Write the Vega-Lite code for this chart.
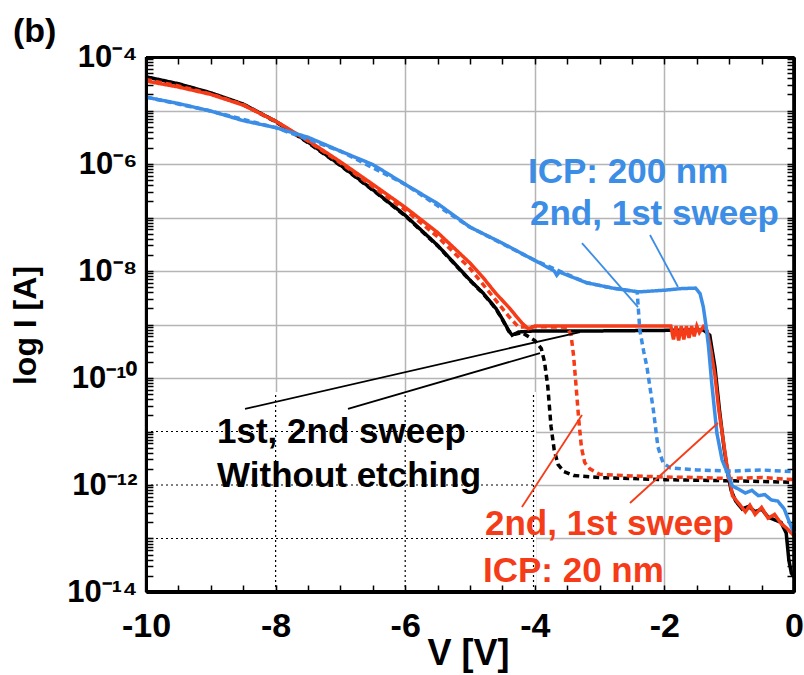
{
 "$schema": "https://vega.github.io/schema/vega-lite/v6.json",
 "width": 648,
 "height": 535,
 "autosize": {"type": "none"},
 "padding": {"left": 146, "top": 57, "right": 10, "bottom": 83},
 "background": "white",
 "title": {"text": "(b)", "anchor": "start", "frame": "group", "dx": -133, "dy": 47, "offset": 12, "font": "Liberation Sans", "fontSize": 34, "fontWeight": "bold", "color": "black", "baseline": "alphabetic"},
 "config": {"view": {"stroke": null}, "font": "Liberation Sans"},
 "resolve": {"axis": {"x": "independent", "y": "independent"}},
 "datasets": {
  "curves": [
   {"sample":"Without etching","sweep":"1st","V":-10,"I":4.27e-5},
   {"sample":"Without etching","sweep":"1st","V":-9.5,"I":3.16e-5},
   {"sample":"Without etching","sweep":"1st","V":-9,"I":2.14e-5},
   {"sample":"Without etching","sweep":"1st","V":-8.5,"I":1.32e-5},
   {"sample":"Without etching","sweep":"1st","V":-8,"I":6.31e-6},
   {"sample":"Without etching","sweep":"1st","V":-7.5,"I":2.57e-6},
   {"sample":"Without etching","sweep":"1st","V":-7,"I":9.55e-7},
   {"sample":"Without etching","sweep":"1st","V":-6.5,"I":3.31e-7},
   {"sample":"Without etching","sweep":"1st","V":-6,"I":1.10e-7},
   {"sample":"Without etching","sweep":"1st","V":-5.5,"I":3.02e-8},
   {"sample":"Without etching","sweep":"1st","V":-5,"I":6.76e-9},
   {"sample":"Without etching","sweep":"1st","V":-4.8,"I":3.89e-9},
   {"sample":"Without etching","sweep":"1st","V":-4.6,"I":2.0e-9},
   {"sample":"Without etching","sweep":"1st","V":-4.5,"I":1.26e-9},
   {"sample":"Without etching","sweep":"1st","V":-4.4,"I":7.59e-10},
   {"sample":"Without etching","sweep":"1st","V":-4.35,"I":6.31e-10},
   {"sample":"Without etching","sweep":"1st","V":-4.25,"I":7.24e-10},
   {"sample":"Without etching","sweep":"1st","V":-4,"I":7.59e-10},
   {"sample":"Without etching","sweep":"1st","V":-3,"I":7.59e-10},
   {"sample":"Without etching","sweep":"1st","V":-2,"I":7.76e-10},
   {"sample":"Without etching","sweep":"1st","V":-1.4,"I":7.94e-10},
   {"sample":"Without etching","sweep":"1st","V":-1.3,"I":6.31e-10},
   {"sample":"Without etching","sweep":"1st","V":-1.22,"I":1.58e-10},
   {"sample":"Without etching","sweep":"1st","V":-1.15,"I":2.51e-11},
   {"sample":"Without etching","sweep":"1st","V":-1.08,"I":5.01e-12},
   {"sample":"Without etching","sweep":"1st","V":-1.02,"I":1.58e-12},
   {"sample":"Without etching","sweep":"1st","V":-0.97,"I":7.94e-13},
   {"sample":"Without etching","sweep":"1st","V":-0.9,"I":5.01e-13},
   {"sample":"Without etching","sweep":"1st","V":-0.8,"I":3.55e-13},
   {"sample":"Without etching","sweep":"1st","V":-0.7,"I":3.98e-13},
   {"sample":"Without etching","sweep":"1st","V":-0.6,"I":3.16e-13},
   {"sample":"Without etching","sweep":"1st","V":-0.5,"I":3.55e-13},
   {"sample":"Without etching","sweep":"1st","V":-0.4,"I":2.51e-13},
   {"sample":"Without etching","sweep":"1st","V":-0.3,"I":2.24e-13},
   {"sample":"Without etching","sweep":"1st","V":-0.2,"I":2.0e-13},
   {"sample":"Without etching","sweep":"1st","V":-0.12,"I":1.26e-13},
   {"sample":"Without etching","sweep":"1st","V":-0.08,"I":3.98e-14},
   {"sample":"Without etching","sweep":"1st","V":-0.04,"I":2.24e-14},
   {"sample":"Without etching","sweep":"1st","V":0,"I":1.91e-14},

   {"sample":"Without etching","sweep":"2nd","V":-10,"I":4.17e-5},
   {"sample":"Without etching","sweep":"2nd","V":-9.5,"I":3.09e-5},
   {"sample":"Without etching","sweep":"2nd","V":-9,"I":2.09e-5},
   {"sample":"Without etching","sweep":"2nd","V":-8.5,"I":1.29e-5},
   {"sample":"Without etching","sweep":"2nd","V":-8,"I":6.17e-6},
   {"sample":"Without etching","sweep":"2nd","V":-7.5,"I":2.51e-6},
   {"sample":"Without etching","sweep":"2nd","V":-7,"I":9.33e-7},
   {"sample":"Without etching","sweep":"2nd","V":-6.5,"I":3.24e-7},
   {"sample":"Without etching","sweep":"2nd","V":-6,"I":1.07e-7},
   {"sample":"Without etching","sweep":"2nd","V":-5.5,"I":2.95e-8},
   {"sample":"Without etching","sweep":"2nd","V":-5,"I":6.61e-9},
   {"sample":"Without etching","sweep":"2nd","V":-4.8,"I":3.80e-9},
   {"sample":"Without etching","sweep":"2nd","V":-4.6,"I":1.95e-9},
   {"sample":"Without etching","sweep":"2nd","V":-4.5,"I":1.23e-9},
   {"sample":"Without etching","sweep":"2nd","V":-4.4,"I":7.41e-10},
   {"sample":"Without etching","sweep":"2nd","V":-4.3,"I":6.61e-10},
   {"sample":"Without etching","sweep":"2nd","V":-4.2,"I":7.08e-10},
   {"sample":"Without etching","sweep":"2nd","V":-4.0,"I":5.01e-10},
   {"sample":"Without etching","sweep":"2nd","V":-3.9,"I":3.55e-10},
   {"sample":"Without etching","sweep":"2nd","V":-3.85,"I":2.0e-10},
   {"sample":"Without etching","sweep":"2nd","V":-3.8,"I":7.08e-11},
   {"sample":"Without etching","sweep":"2nd","V":-3.75,"I":1.26e-11},
   {"sample":"Without etching","sweep":"2nd","V":-3.7,"I":4.47e-12},
   {"sample":"Without etching","sweep":"2nd","V":-3.64,"I":2.40e-12},
   {"sample":"Without etching","sweep":"2nd","V":-3.55,"I":1.78e-12},
   {"sample":"Without etching","sweep":"2nd","V":-3.4,"I":1.51e-12},
   {"sample":"Without etching","sweep":"2nd","V":-3,"I":1.38e-12},
   {"sample":"Without etching","sweep":"2nd","V":-2,"I":1.26e-12},
   {"sample":"Without etching","sweep":"2nd","V":-1,"I":1.20e-12},
   {"sample":"Without etching","sweep":"2nd","V":0,"I":1.12e-12},

   {"sample":"ICP: 20 nm","sweep":"1st","V":-10,"I":3.55e-5},
   {"sample":"ICP: 20 nm","sweep":"1st","V":-9.5,"I":2.75e-5},
   {"sample":"ICP: 20 nm","sweep":"1st","V":-9,"I":2.0e-5},
   {"sample":"ICP: 20 nm","sweep":"1st","V":-8.5,"I":1.26e-5},
   {"sample":"ICP: 20 nm","sweep":"1st","V":-8,"I":6.31e-6},
   {"sample":"ICP: 20 nm","sweep":"1st","V":-7.5,"I":2.75e-6},
   {"sample":"ICP: 20 nm","sweep":"1st","V":-7,"I":1.10e-6},
   {"sample":"ICP: 20 nm","sweep":"1st","V":-6.5,"I":4.17e-7},
   {"sample":"ICP: 20 nm","sweep":"1st","V":-6,"I":1.55e-7},
   {"sample":"ICP: 20 nm","sweep":"1st","V":-5.5,"I":5.25e-8},
   {"sample":"ICP: 20 nm","sweep":"1st","V":-5,"I":1.41e-8},
   {"sample":"ICP: 20 nm","sweep":"1st","V":-4.8,"I":7.59e-9},
   {"sample":"ICP: 20 nm","sweep":"1st","V":-4.6,"I":3.80e-9},
   {"sample":"ICP: 20 nm","sweep":"1st","V":-4.4,"I":2.09e-9},
   {"sample":"ICP: 20 nm","sweep":"1st","V":-4.2,"I":1.07e-9},
   {"sample":"ICP: 20 nm","sweep":"1st","V":-4.1,"I":8.32e-10},
   {"sample":"ICP: 20 nm","sweep":"1st","V":-4.0,"I":9.33e-10},
   {"sample":"ICP: 20 nm","sweep":"1st","V":-3,"I":9.33e-10},
   {"sample":"ICP: 20 nm","sweep":"1st","V":-1.9,"I":9.33e-10},
   {"sample":"ICP: 20 nm","sweep":"1st","V":-1.86,"I":5.25e-10},
   {"sample":"ICP: 20 nm","sweep":"1st","V":-1.82,"I":9.33e-10},
   {"sample":"ICP: 20 nm","sweep":"1st","V":-1.78,"I":5.01e-10},
   {"sample":"ICP: 20 nm","sweep":"1st","V":-1.74,"I":9.33e-10},
   {"sample":"ICP: 20 nm","sweep":"1st","V":-1.7,"I":5.25e-10},
   {"sample":"ICP: 20 nm","sweep":"1st","V":-1.66,"I":9.33e-10},
   {"sample":"ICP: 20 nm","sweep":"1st","V":-1.62,"I":5.62e-10},
   {"sample":"ICP: 20 nm","sweep":"1st","V":-1.58,"I":9.33e-10},
   {"sample":"ICP: 20 nm","sweep":"1st","V":-1.54,"I":6.03e-10},
   {"sample":"ICP: 20 nm","sweep":"1st","V":-1.5,"I":9.33e-10},
   {"sample":"ICP: 20 nm","sweep":"1st","V":-1.46,"I":7.08e-10},
   {"sample":"ICP: 20 nm","sweep":"1st","V":-1.4,"I":9.12e-10},
   {"sample":"ICP: 20 nm","sweep":"1st","V":-1.34,"I":7.59e-10},
   {"sample":"ICP: 20 nm","sweep":"1st","V":-1.28,"I":3.16e-10},
   {"sample":"ICP: 20 nm","sweep":"1st","V":-1.22,"I":1.12e-10},
   {"sample":"ICP: 20 nm","sweep":"1st","V":-1.16,"I":2.51e-11},
   {"sample":"ICP: 20 nm","sweep":"1st","V":-1.1,"I":7.94e-12},
   {"sample":"ICP: 20 nm","sweep":"1st","V":-1.04,"I":2.51e-12},
   {"sample":"ICP: 20 nm","sweep":"1st","V":-0.99,"I":1.26e-12},
   {"sample":"ICP: 20 nm","sweep":"1st","V":-0.95,"I":6.31e-13},
   {"sample":"ICP: 20 nm","sweep":"1st","V":-0.85,"I":4.47e-13},
   {"sample":"ICP: 20 nm","sweep":"1st","V":-0.75,"I":3.16e-13},
   {"sample":"ICP: 20 nm","sweep":"1st","V":-0.68,"I":4.17e-13},
   {"sample":"ICP: 20 nm","sweep":"1st","V":-0.6,"I":2.82e-13},
   {"sample":"ICP: 20 nm","sweep":"1st","V":-0.5,"I":3.80e-13},
   {"sample":"ICP: 20 nm","sweep":"1st","V":-0.4,"I":2.40e-13},
   {"sample":"ICP: 20 nm","sweep":"1st","V":-0.3,"I":2.82e-13},
   {"sample":"ICP: 20 nm","sweep":"1st","V":-0.2,"I":1.91e-13},
   {"sample":"ICP: 20 nm","sweep":"1st","V":-0.1,"I":1.51e-13},
   {"sample":"ICP: 20 nm","sweep":"1st","V":0,"I":1.12e-13},

   {"sample":"ICP: 20 nm","sweep":"2nd","V":-10,"I":3.80e-5},
   {"sample":"ICP: 20 nm","sweep":"2nd","V":-9.5,"I":2.88e-5},
   {"sample":"ICP: 20 nm","sweep":"2nd","V":-9,"I":2.04e-5},
   {"sample":"ICP: 20 nm","sweep":"2nd","V":-8.5,"I":1.29e-5},
   {"sample":"ICP: 20 nm","sweep":"2nd","V":-8,"I":6.31e-6},
   {"sample":"ICP: 20 nm","sweep":"2nd","V":-7.5,"I":2.69e-6},
   {"sample":"ICP: 20 nm","sweep":"2nd","V":-7,"I":1.05e-6},
   {"sample":"ICP: 20 nm","sweep":"2nd","V":-6.5,"I":3.80e-7},
   {"sample":"ICP: 20 nm","sweep":"2nd","V":-6,"I":1.38e-7},
   {"sample":"ICP: 20 nm","sweep":"2nd","V":-5.5,"I":4.37e-8},
   {"sample":"ICP: 20 nm","sweep":"2nd","V":-5,"I":1.12e-8},
   {"sample":"ICP: 20 nm","sweep":"2nd","V":-4.8,"I":5.62e-9},
   {"sample":"ICP: 20 nm","sweep":"2nd","V":-4.6,"I":2.82e-9},
   {"sample":"ICP: 20 nm","sweep":"2nd","V":-4.4,"I":1.41e-9},
   {"sample":"ICP: 20 nm","sweep":"2nd","V":-4.25,"I":8.91e-10},
   {"sample":"ICP: 20 nm","sweep":"2nd","V":-4,"I":9.12e-10},
   {"sample":"ICP: 20 nm","sweep":"2nd","V":-3.5,"I":8.91e-10},
   {"sample":"ICP: 20 nm","sweep":"2nd","V":-3.44,"I":6.31e-10},
   {"sample":"ICP: 20 nm","sweep":"2nd","V":-3.4,"I":2.51e-10},
   {"sample":"ICP: 20 nm","sweep":"2nd","V":-3.36,"I":6.31e-11},
   {"sample":"ICP: 20 nm","sweep":"2nd","V":-3.32,"I":1.58e-11},
   {"sample":"ICP: 20 nm","sweep":"2nd","V":-3.28,"I":5.01e-12},
   {"sample":"ICP: 20 nm","sweep":"2nd","V":-3.23,"I":2.63e-12},
   {"sample":"ICP: 20 nm","sweep":"2nd","V":-3.15,"I":2.0e-12},
   {"sample":"ICP: 20 nm","sweep":"2nd","V":-3,"I":1.58e-12},
   {"sample":"ICP: 20 nm","sweep":"2nd","V":-2.5,"I":1.48e-12},
   {"sample":"ICP: 20 nm","sweep":"2nd","V":-2,"I":1.41e-12},
   {"sample":"ICP: 20 nm","sweep":"2nd","V":-1.5,"I":1.38e-12},
   {"sample":"ICP: 20 nm","sweep":"2nd","V":-1,"I":1.32e-12},
   {"sample":"ICP: 20 nm","sweep":"2nd","V":-0.5,"I":1.38e-12},
   {"sample":"ICP: 20 nm","sweep":"2nd","V":0,"I":1.26e-12},

   {"sample":"ICP: 200 nm","sweep":"1st","V":-10,"I":1.78e-5},
   {"sample":"ICP: 200 nm","sweep":"1st","V":-9.5,"I":1.35e-5},
   {"sample":"ICP: 200 nm","sweep":"1st","V":-9,"I":9.77e-6},
   {"sample":"ICP: 200 nm","sweep":"1st","V":-8.5,"I":6.46e-6},
   {"sample":"ICP: 200 nm","sweep":"1st","V":-8,"I":4.79e-6},
   {"sample":"ICP: 200 nm","sweep":"1st","V":-7.5,"I":3.16e-6},
   {"sample":"ICP: 200 nm","sweep":"1st","V":-7,"I":1.74e-6},
   {"sample":"ICP: 200 nm","sweep":"1st","V":-6.5,"I":9.77e-7},
   {"sample":"ICP: 200 nm","sweep":"1st","V":-6,"I":4.17e-7},
   {"sample":"ICP: 200 nm","sweep":"1st","V":-5.5,"I":1.82e-7},
   {"sample":"ICP: 200 nm","sweep":"1st","V":-5,"I":6.61e-8},
   {"sample":"ICP: 200 nm","sweep":"1st","V":-4.5,"I":3.31e-8},
   {"sample":"ICP: 200 nm","sweep":"1st","V":-4,"I":1.58e-8},
   {"sample":"ICP: 200 nm","sweep":"1st","V":-3.7,"I":1.0e-8},
   {"sample":"ICP: 200 nm","sweep":"1st","V":-3.66,"I":8.32e-9},
   {"sample":"ICP: 200 nm","sweep":"1st","V":-3.62,"I":9.55e-9},
   {"sample":"ICP: 200 nm","sweep":"1st","V":-3.2,"I":6.03e-9},
   {"sample":"ICP: 200 nm","sweep":"1st","V":-2.8,"I":4.79e-9},
   {"sample":"ICP: 200 nm","sweep":"1st","V":-2.4,"I":4.07e-9},
   {"sample":"ICP: 200 nm","sweep":"1st","V":-2,"I":4.37e-9},
   {"sample":"ICP: 200 nm","sweep":"1st","V":-1.75,"I":4.68e-9},
   {"sample":"ICP: 200 nm","sweep":"1st","V":-1.52,"I":4.79e-9},
   {"sample":"ICP: 200 nm","sweep":"1st","V":-1.45,"I":3.80e-9},
   {"sample":"ICP: 200 nm","sweep":"1st","V":-1.4,"I":2.14e-9},
   {"sample":"ICP: 200 nm","sweep":"1st","V":-1.36,"I":1.0e-9},
   {"sample":"ICP: 200 nm","sweep":"1st","V":-1.32,"I":3.98e-10},
   {"sample":"ICP: 200 nm","sweep":"1st","V":-1.27,"I":8.13e-11},
   {"sample":"ICP: 200 nm","sweep":"1st","V":-1.19,"I":9.33e-12},
   {"sample":"ICP: 200 nm","sweep":"1st","V":-1.11,"I":2.95e-12},
   {"sample":"ICP: 200 nm","sweep":"1st","V":-1.02,"I":1.58e-12},
   {"sample":"ICP: 200 nm","sweep":"1st","V":-0.95,"I":9.55e-13},
   {"sample":"ICP: 200 nm","sweep":"1st","V":-0.85,"I":8.32e-13},
   {"sample":"ICP: 200 nm","sweep":"1st","V":-0.75,"I":7.08e-13},
   {"sample":"ICP: 200 nm","sweep":"1st","V":-0.65,"I":7.94e-13},
   {"sample":"ICP: 200 nm","sweep":"1st","V":-0.55,"I":6.31e-13},
   {"sample":"ICP: 200 nm","sweep":"1st","V":-0.45,"I":6.61e-13},
   {"sample":"ICP: 200 nm","sweep":"1st","V":-0.35,"I":5.25e-13},
   {"sample":"ICP: 200 nm","sweep":"1st","V":-0.25,"I":5.01e-13},
   {"sample":"ICP: 200 nm","sweep":"1st","V":-0.15,"I":3.55e-13},
   {"sample":"ICP: 200 nm","sweep":"1st","V":-0.07,"I":2.0e-13},
   {"sample":"ICP: 200 nm","sweep":"1st","V":0,"I":1.26e-13},

   {"sample":"ICP: 200 nm","sweep":"2nd","V":-10,"I":1.78e-5},
   {"sample":"ICP: 200 nm","sweep":"2nd","V":-9,"I":9.77e-6},
   {"sample":"ICP: 200 nm","sweep":"2nd","V":-8,"I":4.79e-6},
   {"sample":"ICP: 200 nm","sweep":"2nd","V":-7,"I":1.74e-6},
   {"sample":"ICP: 200 nm","sweep":"2nd","V":-6,"I":4.17e-7},
   {"sample":"ICP: 200 nm","sweep":"2nd","V":-5,"I":6.61e-8},
   {"sample":"ICP: 200 nm","sweep":"2nd","V":-4,"I":1.58e-8},
   {"sample":"ICP: 200 nm","sweep":"2nd","V":-3.2,"I":6.03e-9},
   {"sample":"ICP: 200 nm","sweep":"2nd","V":-2.8,"I":4.79e-9},
   {"sample":"ICP: 200 nm","sweep":"2nd","V":-2.42,"I":4.07e-9},
   {"sample":"ICP: 200 nm","sweep":"2nd","V":-2.38,"I":7.94e-10},
   {"sample":"ICP: 200 nm","sweep":"2nd","V":-2.32,"I":3.16e-10},
   {"sample":"ICP: 200 nm","sweep":"2nd","V":-2.27,"I":1.62e-10},
   {"sample":"ICP: 200 nm","sweep":"2nd","V":-2.17,"I":2.51e-11},
   {"sample":"ICP: 200 nm","sweep":"2nd","V":-2.1,"I":5.13e-12},
   {"sample":"ICP: 200 nm","sweep":"2nd","V":-2.02,"I":2.57e-12},
   {"sample":"ICP: 200 nm","sweep":"2nd","V":-1.91,"I":2.09e-12},
   {"sample":"ICP: 200 nm","sweep":"2nd","V":-1.5,"I":1.91e-12},
   {"sample":"ICP: 200 nm","sweep":"2nd","V":-1,"I":1.82e-12},
   {"sample":"ICP: 200 nm","sweep":"2nd","V":-0.5,"I":1.91e-12},
   {"sample":"ICP: 200 nm","sweep":"2nd","V":0,"I":1.78e-12}
  ],
  "leaders": [
   {"sample":"Without etching","x1":-8.472,"y1":2.64e-11,"x2":-3.302,"y2":7.24e-10},
   {"sample":"Without etching","x1":-6.883,"y1":2.64e-11,"x2":-3.92,"y2":2.93e-10},
   {"sample":"ICP: 20 nm","x1":-4.198,"y1":3.88e-13,"x2":-3.272,"y2":2.03e-11},
   {"sample":"ICP: 20 nm","x1":-2.531,"y1":4.61e-13,"x2":-1.173,"y2":1.44e-11},
   {"sample":"ICP: 200 nm","x1":-3.272,"y1":3.33e-8,"x2":-2.407,"y2":2.12e-9},
   {"sample":"ICP: 200 nm","x1":-2.222,"y1":4.71e-8,"x2":-1.79,"y2":5.02e-9}
  ],
  "notes": [
   {"sample":"ICP: 200 nm","x":-4.105,"y":4.42e-7,"label":"ICP: 200 nm"},
   {"sample":"ICP: 200 nm","x":-4.074,"y":7.24e-8,"label":"2nd, 1st sweep"},
   {"sample":"Without etching","x":-8.904,"y":6.10e-12,"label":"1st, 2nd sweep"},
   {"sample":"Without etching","x":-8.904,"y":9.18e-13,"label":"Without etching"},
   {"sample":"ICP: 20 nm","x":-4.769,"y":1.16e-13,"label":"2nd, 1st sweep"},
   {"sample":"ICP: 20 nm","x":-4.8,"y":1.54e-14,"label":"ICP: 20 nm"}
  ]
 },
 "layer": [
  {
   "data": {"values": [{}]},
   "mark": {"type": "rect", "fill": "white"},
   "encoding": {
    "x": {"datum": -9.88, "type": "quantitative", "scale": {"domain": [-10, 0], "nice": false, "zero": false},
     "axis": {"orient": "bottom", "values": [-10,-9.5,-9,-8.5,-8,-7.5,-7,-6.5,-6,-5.5,-5,-4.5,-4,-3.5,-3,-2.5,-2,-1.5,-1,-0.5,0], "labelExpr": "datum.value % 2 != 0 ? '' : datum.value == 0 ? '0' : '-' + abs(datum.value)", "grid": true, "gridColor": "#b5b5b5", "gridWidth": 1.5, "gridOpacity": {"condition": {"test": "datum.value == -10 || datum.value == 0 || datum.value % 2 != 0", "value": 0}, "value": 1}, "ticks": true, "tickSize": -7, "tickWidth": 1.5, "tickColor": "black", "domain": true, "domainColor": "black", "domainWidth": 3, "labelFont": "Liberation Sans", "labelFontWeight": "bold", "labelFontSize": 34, "labelColor": "black", "labelPadding": 24, "labelFlush": false, "labelOverlap": false, "title": "V [V]", "titleFont": "Liberation Sans", "titleFontWeight": "bold", "titleFontSize": 36, "titleColor": "black", "titleX": 322, "titleY": 72, "titleBaseline": "alphabetic", "titleAlign": "center", "zindex": 0}},
    "x2": {"datum": -3.98},
    "y": {"datum": 1.35e-14, "type": "quantitative", "scale": {"type": "log", "domain": [1e-14, 1e-4], "nice": false},
     "axis": {"orient": "left", "values": [1e-14,2e-14,3e-14,4e-14,5e-14,6e-14,7e-14,8e-14,9e-14,1e-13,2e-13,3e-13,4e-13,5e-13,6e-13,7e-13,8e-13,9e-13,1e-12,2e-12,3e-12,4e-12,5e-12,6e-12,7e-12,8e-12,9e-12,1e-11,2e-11,3e-11,4e-11,5e-11,6e-11,7e-11,8e-11,9e-11,1e-10,2e-10,3e-10,4e-10,5e-10,6e-10,7e-10,8e-10,9e-10,1e-9,2e-9,3e-9,4e-9,5e-9,6e-9,7e-9,8e-9,9e-9,1e-8,2e-8,3e-8,4e-8,5e-8,6e-8,7e-8,8e-8,9e-8,1e-7,2e-7,3e-7,4e-7,5e-7,6e-7,7e-7,8e-7,9e-7,1e-6,2e-6,3e-6,4e-6,5e-6,6e-6,7e-6,8e-6,9e-6,1e-5,2e-5,3e-5,4e-5,5e-5,6e-5,7e-5,8e-5,9e-5,1e-4], "labelExpr": "abs(log(datum.value)/LN10 - round(log(datum.value)/LN10)) > 0.01 ? '' : round(log(datum.value)/LN10) == -4 ? '10⁻⁴' : round(log(datum.value)/LN10) == -6 ? '10⁻⁶' : round(log(datum.value)/LN10) == -8 ? '10⁻⁸' : round(log(datum.value)/LN10) == -10 ? '10⁻¹⁰' : round(log(datum.value)/LN10) == -12 ? '10⁻¹²' : round(log(datum.value)/LN10) == -14 ? '10⁻¹⁴' : ''", "grid": true, "gridColor": "#b5b5b5", "gridWidth": 1.5, "gridOpacity": {"condition": {"test": "datum.value < 2e-14 || datum.value > 5e-5 || abs(log(datum.value)/LN10 - round(log(datum.value)/LN10)) > 0.01", "value": 0}, "value": 1}, "ticks": true, "tickSize": -7, "tickWidth": 1.5, "tickColor": "black", "domain": true, "domainColor": "black", "domainWidth": 3, "labelFont": "Liberation Sans", "labelFontWeight": "bold", "labelFontSize": 31, "labelColor": "black", "labelPadding": 16, "labelFlush": false, "labelOverlap": false, "title": "log I [A]", "titleFont": "Liberation Sans", "titleFontWeight": "bold", "titleFontSize": 32, "titleColor": "black", "titleX": -111, "titleY": 268, "titleAngle": 270, "titleBaseline": "alphabetic", "titleAlign": "center", "zindex": 0}},
    "y2": {"datum": 5.5e-11}
   }
  },
  {
   "data": {"values": [{"g": 1e-11}, {"g": 1e-12}, {"g": 1e-13}]},
   "mark": {"type": "rule", "color": "black", "strokeWidth": 1.2, "strokeDash": [2, 3]},
   "encoding": {
    "y": {"field": "g", "type": "quantitative", "axis": null},
    "x": {"datum": -10, "type": "quantitative", "axis": null},
    "x2": {"datum": -3.98}
   }
  },
  {
   "data": {"values": [{"v": -8}, {"v": -6}, {"v": -4.02}]},
   "mark": {"type": "rule", "color": "black", "strokeWidth": 1.2, "strokeDash": [2, 3]},
   "encoding": {
    "x": {"field": "v", "type": "quantitative", "axis": null},
    "y": {"datum": 1e-14, "type": "quantitative", "axis": null},
    "y2": {"datum": 5.5e-11}
   }
  },
  {
   "data": {"name": "curves"},
   "mark": {"type": "line", "strokeWidth": 3.5},
   "encoding": {
    "x": {"field": "V", "type": "quantitative",
     "axis": {"orient": "top", "values": [-10,-9.5,-9,-8.5,-8,-7.5,-7,-6.5,-6,-5.5,-5,-4.5,-4,-3.5,-3,-2.5,-2,-1.5,-1,-0.5,0], "labels": false, "grid": false, "domain": true, "domainColor": "black", "domainWidth": 3, "ticks": true, "tickSize": -7, "tickWidth": 1.5, "tickColor": "black", "title": null, "zindex": 0}},
    "y": {"field": "I", "type": "quantitative",
     "axis": {"orient": "right", "values": [1e-14,2e-14,3e-14,4e-14,5e-14,6e-14,7e-14,8e-14,9e-14,1e-13,2e-13,3e-13,4e-13,5e-13,6e-13,7e-13,8e-13,9e-13,1e-12,2e-12,3e-12,4e-12,5e-12,6e-12,7e-12,8e-12,9e-12,1e-11,2e-11,3e-11,4e-11,5e-11,6e-11,7e-11,8e-11,9e-11,1e-10,2e-10,3e-10,4e-10,5e-10,6e-10,7e-10,8e-10,9e-10,1e-9,2e-9,3e-9,4e-9,5e-9,6e-9,7e-9,8e-9,9e-9,1e-8,2e-8,3e-8,4e-8,5e-8,6e-8,7e-8,8e-8,9e-8,1e-7,2e-7,3e-7,4e-7,5e-7,6e-7,7e-7,8e-7,9e-7,1e-6,2e-6,3e-6,4e-6,5e-6,6e-6,7e-6,8e-6,9e-6,1e-5,2e-5,3e-5,4e-5,5e-5,6e-5,7e-5,8e-5,9e-5,1e-4], "labels": false, "grid": false, "domain": true, "domainColor": "black", "domainWidth": 3, "ticks": true, "tickSize": -7, "tickWidth": 1.5, "tickColor": "black", "title": null, "zindex": 0}},
    "color": {"field": "sample", "type": "nominal", "scale": {"domain": ["Without etching", "ICP: 20 nm", "ICP: 200 nm"], "range": ["#000000", "#f53b17", "#3b8de6"]}, "legend": null},
    "strokeDash": {"field": "sweep", "type": "nominal", "scale": {"domain": ["1st", "2nd"], "range": [[1, 0], [6, 4]]}, "legend": null}
   }
  },
  {
   "data": {"name": "leaders"},
   "mark": {"type": "rule", "strokeWidth": 1.8},
   "encoding": {
    "x": {"field": "x1", "type": "quantitative", "axis": null},
    "x2": {"field": "x2"},
    "y": {"field": "y1", "type": "quantitative", "axis": null},
    "y2": {"field": "y2"},
    "color": {"field": "sample", "type": "nominal", "legend": null}
   }
  },
  {
   "data": {"name": "notes"},
   "mark": {"type": "text", "align": "left", "baseline": "alphabetic", "font": "Liberation Sans", "fontWeight": "bold", "fontSize": 35},
   "encoding": {
    "x": {"field": "x", "type": "quantitative", "axis": null},
    "y": {"field": "y", "type": "quantitative", "axis": null},
    "text": {"field": "label"},
    "color": {"field": "sample", "type": "nominal", "legend": null}
   }
  },
  {
   "data": {"values": [{"g": 1.02e-14}, {"g": 9.8e-5}]},
   "mark": {"type": "rule", "color": "black", "strokeWidth": 3},
   "encoding": {
    "y": {"field": "g", "type": "quantitative", "axis": null},
    "x": {"datum": -10, "type": "quantitative", "axis": null},
    "x2": {"datum": -0.0001}
   }
  },
  {
   "data": {"values": [{"v": -9.995}, {"v": -0.005}]},
   "mark": {"type": "rule", "color": "black", "strokeWidth": 3},
   "encoding": {
    "x": {"field": "v", "type": "quantitative", "axis": null},
    "y": {"datum": 1e-14, "type": "quantitative", "axis": null},
    "y2": {"datum": 1e-4}
   }
  }
 ]
}
